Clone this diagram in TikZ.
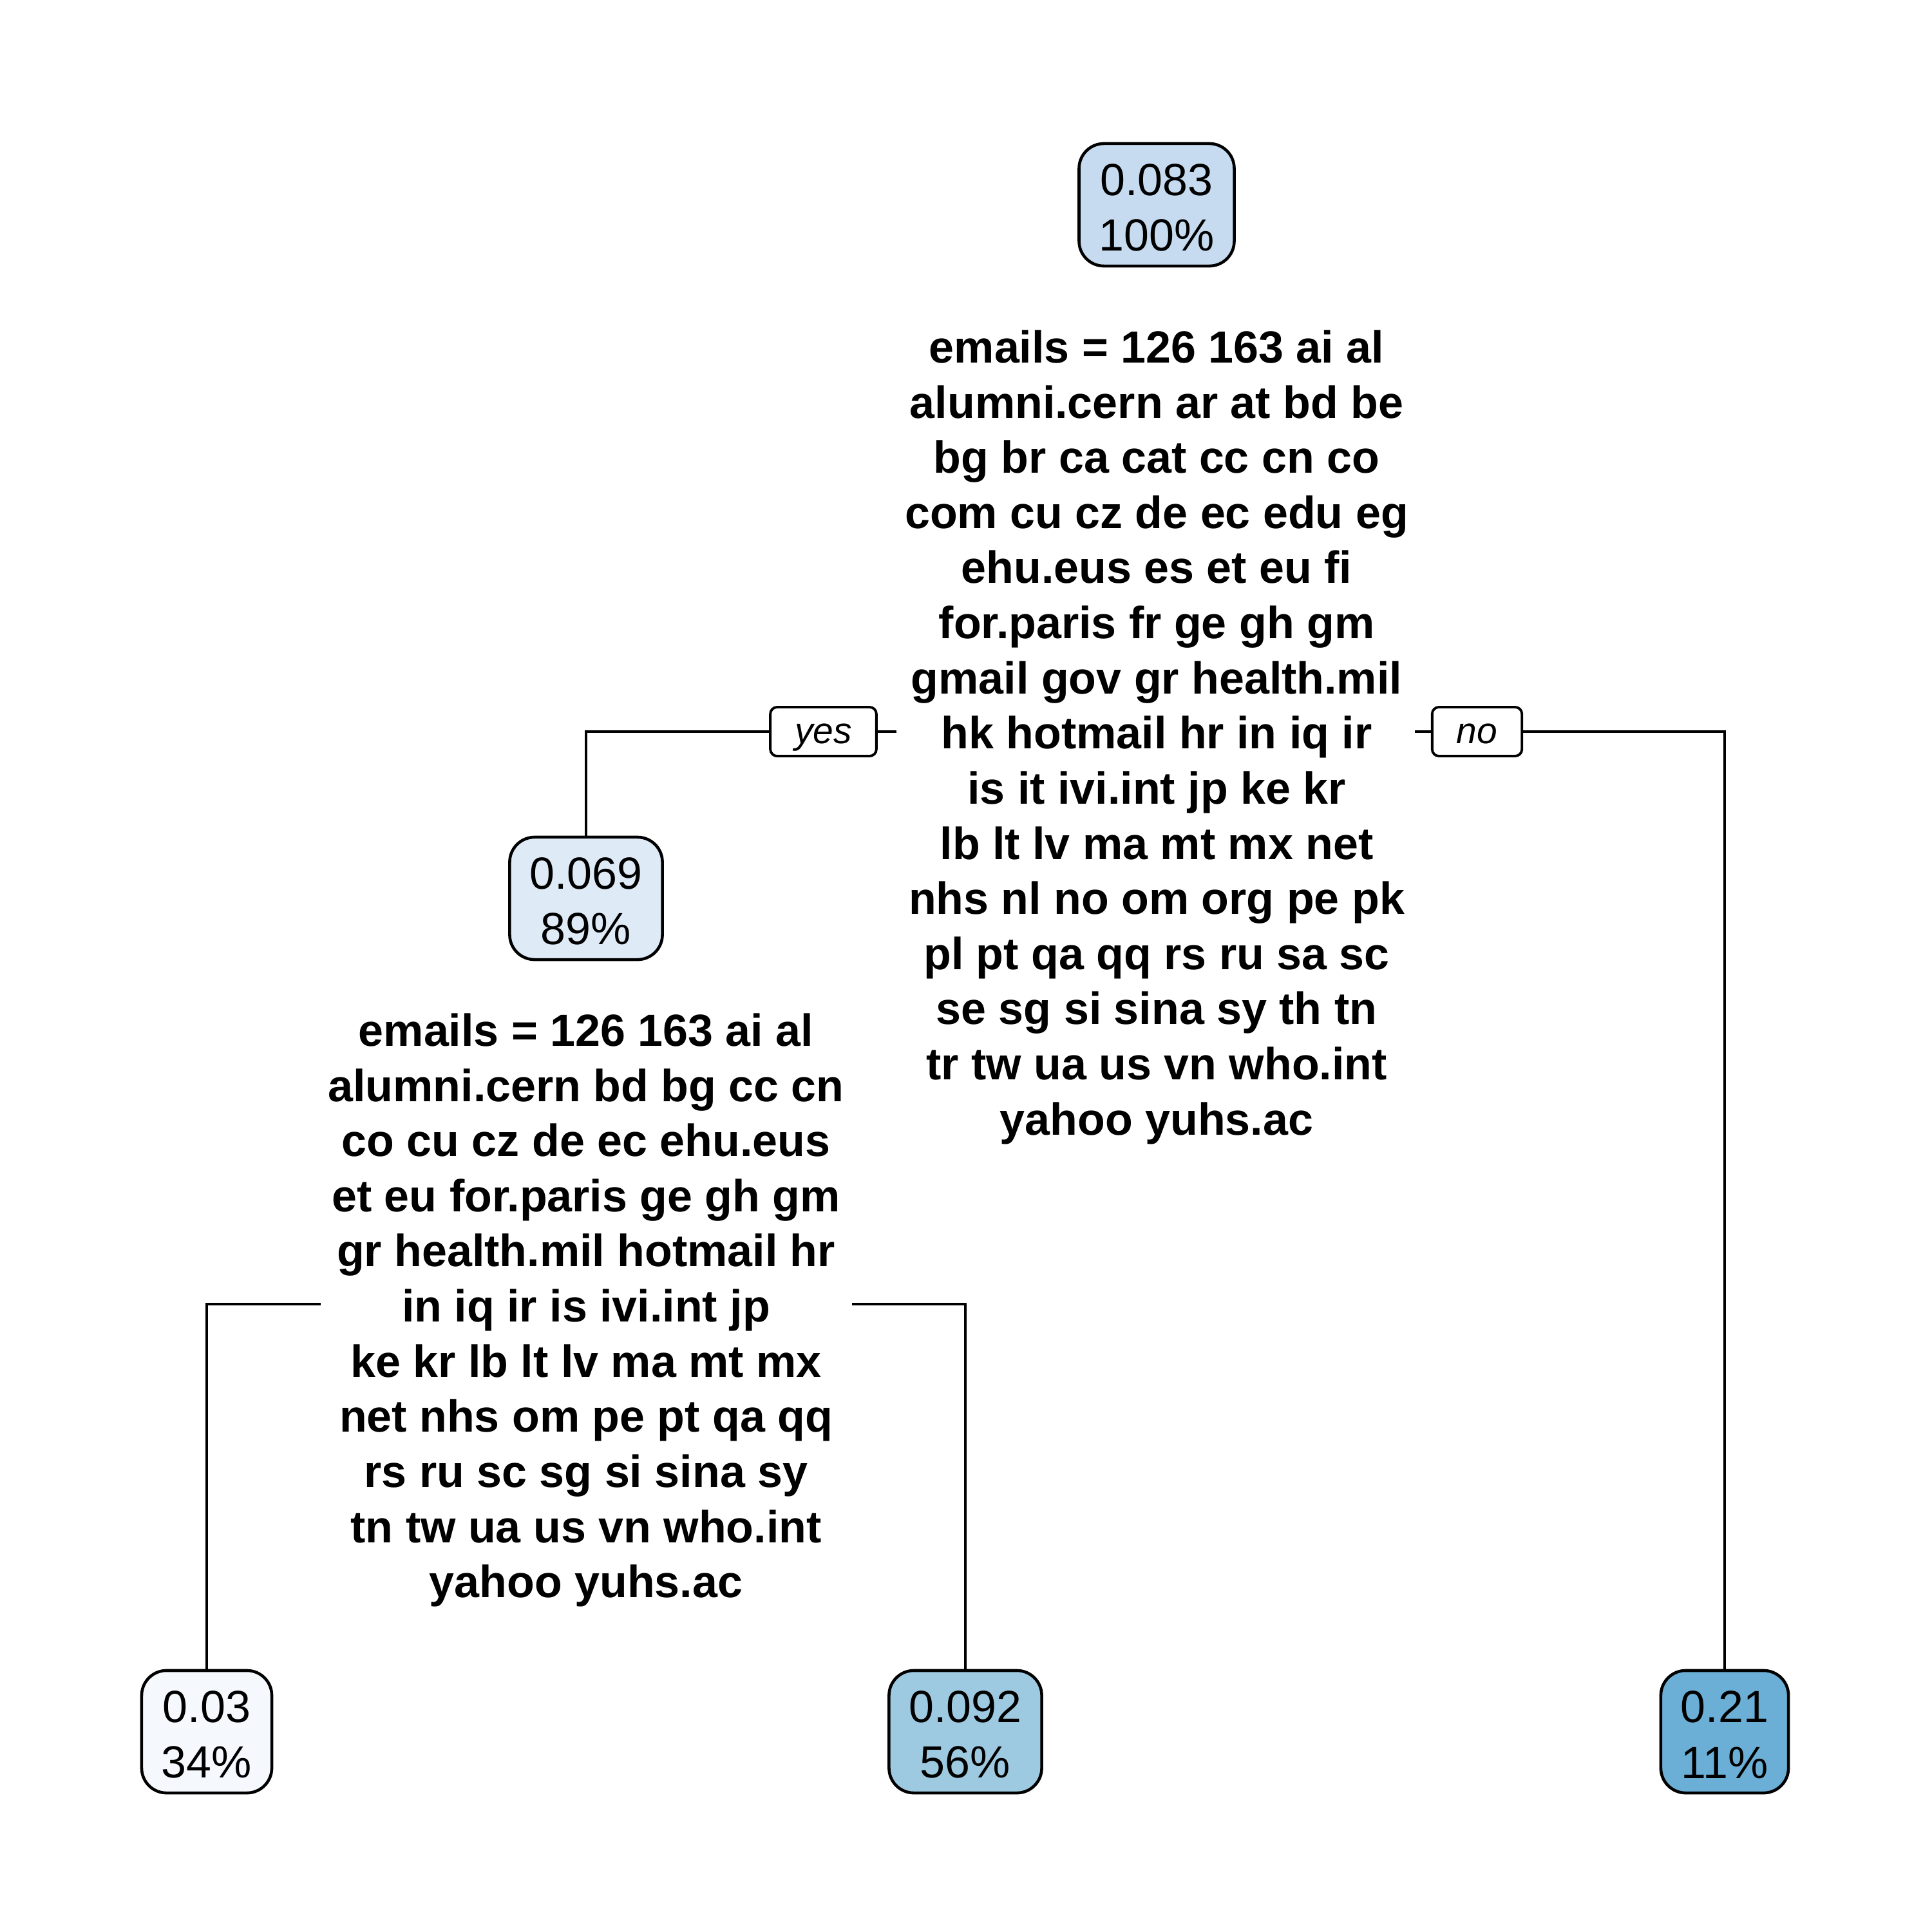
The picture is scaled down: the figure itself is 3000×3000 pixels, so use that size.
\documentclass[tikz,border=0pt]{standalone}
\usepackage{fontspec}
\setmainfont{Liberation Sans}
\definecolor{cA}{HTML}{C6DBEF}
\definecolor{cB}{HTML}{DEEBF7}
\definecolor{cC}{HTML}{F5F9FD}
\definecolor{cD}{HTML}{9ECAE1}
\definecolor{cE}{HTML}{6BAED6}
\newcommand{\toppad}{\rule{0pt}{0.58cm}}
\begin{document}
\begin{tikzpicture}[x=0.01cm,y=-0.01cm,
  leaf/.style={draw=black, line width=1.3pt, rounded corners=11pt, align=center,
    font=\fontsize{19.9}{24.6}\selectfont, inner xsep=0.31cm, inner ysep=0pt, minimum height=1.9cm},
  splittext/.style={align=center, font=\bfseries\fontsize{19.9}{24.35}\selectfont, inner sep=0pt, anchor=north},
  lbl/.style={draw=black, fill=white, line width=1.1pt, rounded corners=3pt,
    font=\itshape\fontsize{16.2}{19}\selectfont, inner xsep=0.38cm, inner ysep=0pt,
    text height=0.48cm, text depth=0.12cm, minimum height=0.76cm},
  conn/.style={line width=1.15pt}]
\path[use as bounding box, fill=white] (0,0) rectangle (3000,3000);

\node[leaf, fill=cA] (n1) at (1796,318) {\toppad 0.083\\100\%};
\node[leaf, fill=cB] (n2) at (910,1395) {\toppad 0.069\\89\%};
\node[leaf, fill=cC] (n4) at (321,2689) {\toppad 0.03\\34\%};
\node[leaf, fill=cD] (n5) at (1499,2689) {\toppad 0.092\\56\%};
\node[leaf, fill=cE] (n3) at (2678,2689) {\toppad 0.21\\11\%};

\node[splittext] (s1) at (1796,512) {emails = 126 163 ai al\\alumni.cern ar at bd be\\bg br ca cat cc cn co\\com cu cz de ec edu eg\\ehu.eus es et eu fi\\for.paris fr ge gh gm\\gmail gov gr health.mil\\hk hotmail hr in iq ir\\is it ivi.int jp ke kr\\lb lt lv ma mt mx net\\nhs nl no om org pe pk\\pl pt qa qq rs ru sa sc\\se sg si sina sy th tn\\tr tw ua us vn who.int\\yahoo yuhs.ac};

\node[splittext] (s2) at (910,1573) {emails = 126 163 ai al\\alumni.cern bd bg cc cn\\co cu cz de ec ehu.eus\\et eu for.paris ge gh gm\\gr health.mil hotmail hr\\in iq ir is ivi.int jp\\ke kr lb lt lv ma mt mx\\net nhs om pe pt qa qq\\rs ru sc sg si sina sy\\tn tw ua us vn who.int\\yahoo yuhs.ac};

\coordinate (yR) at (1392,1136);
\coordinate (nL) at (2197,1136);
\coordinate (lL) at (498,2025);
\coordinate (lR) at (1323,2025);

\draw[conn] (yR) -| (n2.north);
\draw[conn] (nL) -| (n3.north);
\draw[conn] (lL) -| (n4.north);
\draw[conn] (lR) -| (n5.north);

\node[lbl] (yes) at (1278.5,1136) {yes};
\node[lbl] (no) at (2293.5,1136) {no};
\end{tikzpicture}
\end{document}
